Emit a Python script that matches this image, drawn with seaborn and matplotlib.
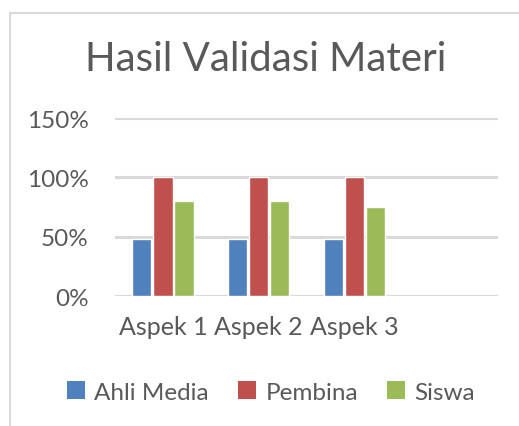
import matplotlib
matplotlib.use("Agg")
import matplotlib.pyplot as plt
import seaborn as sns
import pandas as pd
from matplotlib.patches import Rectangle, Patch

categories = ["Aspek 1", "Aspek 2", "Aspek 3", ""]
series = ["Ahli Media", "Pembina", "Siswa"]
ahli_media = [0.48, 0.48, 0.48]
pembina = [1.00, 1.00, 1.00]
siswa = [0.80, 0.80, 0.75]
yticks = [0, 0.5, 1.0, 1.5]
ytick_labels = ["0%", "50%", "100%", "150%"]
colors = ["#4F81BD", "#C0504D", "#9BBB59"]

rows = []
for s, vals in zip(series, [ahli_media, pembina, siswa]):
    for c, v in zip(categories[:3], vals):
        rows.append({"Aspek": c, "Seri": s, "Nilai": v})
df = pd.DataFrame(rows)

sns.set_style("white")
plt.rcParams["font.family"] = ["Lato", "DejaVu Sans"]
text_color = "#595959"

fig = plt.figure(figsize=(5.19, 4.27), dpi=100)
ax = fig.add_axes([115/519, 1-297/427, (498-115)/519, (297-119)/427])

sns.barplot(data=df, x="Aspek", y="Nilai", hue="Seri", order=categories,
            hue_order=series, palette=colors, width=0.66, gap=0.08,
            ax=ax, legend=False, saturation=1)

ax.set_ylim(0, 1.5)
ax.set_yticks(yticks)
ax.set_yticklabels(ytick_labels)
ax.yaxis.grid(True, color="#D9D9D9", linewidth=2.2)
ax.set_axisbelow(True)
for sp in ax.spines.values():
    sp.set_visible(False)
ax.tick_params(axis="y", length=0, pad=19, labelsize=17.5, labelcolor=text_color)
ax.tick_params(axis="x", length=0, pad=14, labelsize=18, labelcolor=text_color)
ax.set_xlabel("")
ax.set_ylabel("")

fig.text(266/519, 1-60/427, "Hasil Validasi Materi", ha="center", va="center",
         fontsize=29, color=text_color)

handles = [Patch(facecolor=c, edgecolor="none") for c in colors]
fig.legend(handles, series, loc="center", bbox_to_anchor=(271/519, 1-393/427),
           ncol=3, frameon=False, fontsize=17.5, labelcolor=text_color,
           handlelength=0.72, handleheight=0.72, handletextpad=0.4,
           columnspacing=1.2)

fig.patches.append(Rectangle((9.5/519, -0.1), 1.2, 1-13.5/427+0.1,
                             transform=fig.transFigure, fill=False,
                             edgecolor="#D9D9D9", linewidth=1.5))

fig.savefig("out.png", dpi=100)
